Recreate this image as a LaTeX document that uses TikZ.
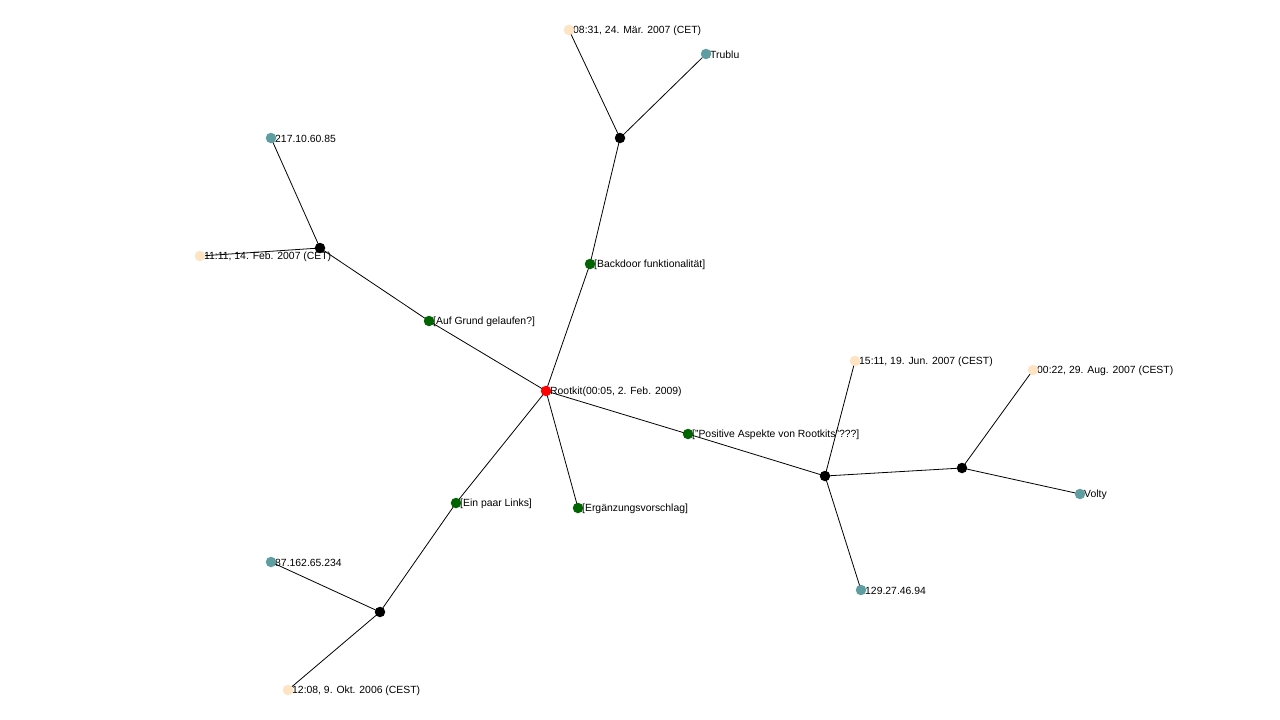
\documentclass[tikz,border=0pt]{standalone}
\usepackage{fontspec}
\setmainfont{Liberation Sans}
\pgfdeclarelayer{bg}
\pgfdeclarelayer{labels}
\pgfdeclarelayer{edges}
\pgfsetlayers{bg,labels,edges,main}
\definecolor{rootred}{RGB}{255,0,0}
\definecolor{topicgreen}{RGB}{0,100,0}
\definecolor{usercol}{RGB}{95,158,160}
\definecolor{datecol}{RGB}{255,228,196}
\tikzset{
  dot/.style={circle,fill=#1,inner sep=0pt,minimum size=10.5pt},
  lbl/.style={anchor=west,inner sep=0pt,font=\fontsize{10.4}{12}\selectfont,text=black},
  edge/.style={draw=black,line width=0.8pt}
}
\newcommand{\gnode}[4]{%
  \node[dot=#2] (#1) at (#3) {};
  \begin{pgfonlayer}{labels}
    \node[lbl] (#1-t) at ([xshift=4pt,yshift=-1pt]#1.center) {#4};
  \end{pgfonlayer}}
\begin{document}
\begin{tikzpicture}[x=1pt,y=-1pt]
\begin{pgfonlayer}{bg}
  \fill[white] (0,0) rectangle (1280,720);
\end{pgfonlayer}
\useasboundingbox (0,0) rectangle (1280,720);
% centre
\gnode{root}{rootred}{546,391}{Rootkit(00:05, 2. Feb. 2009)}
% topics
\gnode{back}{topicgreen}{590,264}{[Backdoor funktionalität]}
\gnode{auf}{topicgreen}{429,321}{[Auf Grund gelaufen?]}
\gnode{pos}{topicgreen}{688,434}{["Positive Aspekte von Rootkits"???]}
\gnode{ein}{topicgreen}{456,503}{[Ein paar Links]}
\gnode{erg}{topicgreen}{578,508}{[Ergänzungsvorschlag]}
% posts
\gnode{p1}{black}{620,138}{}
\gnode{p2}{black}{320,248}{}
\gnode{p3}{black}{825,476}{}
\gnode{p4}{black}{962,468}{}
\gnode{p5}{black}{380,612}{}
% authors
\gnode{trublu}{usercol}{706,54}{Trublu}
\gnode{ipa}{usercol}{271,138}{217.10.60.85}
\gnode{ipb}{usercol}{861,590}{129.27.46.94}
\gnode{volty}{usercol}{1080,494}{Volty}
\gnode{ipc}{usercol}{271,562}{87.162.65.234}
% dates
\gnode{d1}{datecol}{569,30}{08:31, 24. Mär. 2007 (CET)}
\gnode{d2}{datecol}{200,256}{11:11, 14. Feb. 2007 (CET)}
\gnode{d3}{datecol}{855,361}{15:11, 19. Jun. 2007 (CEST)}
\gnode{d4}{datecol}{1033,370}{00:22, 29. Aug. 2007 (CEST)}
\gnode{d5}{datecol}{288,690}{12:08, 9. Okt. 2006 (CEST)}
% connectors
\begin{pgfonlayer}{edges}
\foreach \a/\b in {root/back,back/p1,p1/d1,p1/trublu,
                   root/auf,auf/p2,p2/ipa,p2/d2,
                   root/pos,pos/p3,p3/d3,p3/ipb,p3/p4,p4/d4,p4/volty,
                   root/ein,ein/p5,p5/ipc,p5/d5,
                   root/erg}
  \draw[edge] (\a.center) -- (\b.center);
\end{pgfonlayer}
\end{tikzpicture}
\end{document}
